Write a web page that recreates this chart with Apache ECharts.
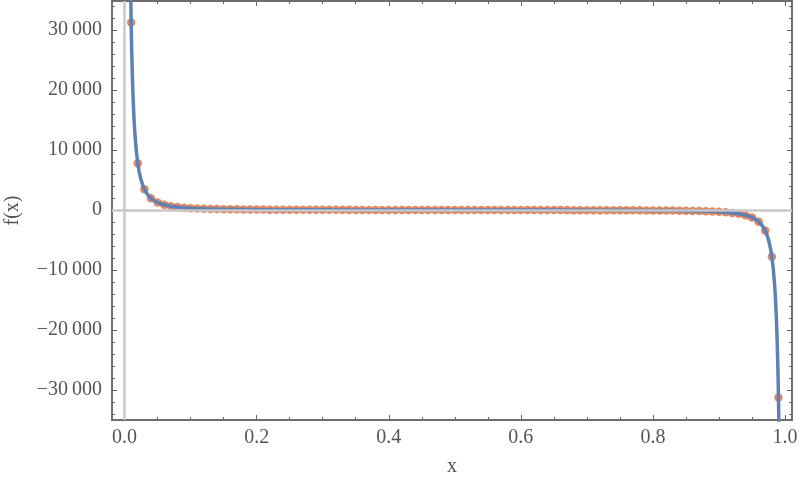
<!DOCTYPE html>
<html>
<head>
<meta charset="utf-8">
<script src="https://cdn.jsdelivr.net/npm/echarts@6/dist/echarts.min.js"></script>
<style>html,body{margin:0;padding:0;background:#fff}#c{width:800px;height:484px}</style>
</head>
<body>
<div id="c"></div>
<script>
// sample points (orange dots)
var pointX = [0.01,0.02,0.03,0.04,0.05,0.06,0.07,0.08,0.09,0.10,0.11,0.12,0.13,0.14,0.15,0.16,0.17,0.18,0.19,0.20,0.21,0.22,0.23,0.24,0.25,0.26,0.27,0.28,0.29,0.30,0.31,0.32,0.33,0.34,0.35,0.36,0.37,0.38,0.39,0.40,0.41,0.42,0.43,0.44,0.45,0.46,0.47,0.48,0.49,0.50,0.51,0.52,0.53,0.54,0.55,0.56,0.57,0.58,0.59,0.60,0.61,0.62,0.63,0.64,0.65,0.66,0.67,0.68,0.69,0.70,0.71,0.72,0.73,0.74,0.75,0.76,0.77,0.78,0.79,0.80,0.81,0.82,0.83,0.84,0.85,0.86,0.87,0.88,0.89,0.90,0.91,0.92,0.93,0.94,0.95,0.96,0.97,0.98,0.99];
var pointY = [31247,7809,3469,1950,1247,865,634,485,382,309,254,213,181,155,135,118,104,92,82,73,66,59,54,49,44,40,37,34,31,28,26,24,22,20,18,16,15,13,12,11,10,8,7,6,5,4,3,2,1,0,-1,-2,-3,-4,-5,-6,-7,-8,-10,-11,-12,-13,-15,-16,-18,-20,-22,-24,-26,-28,-31,-34,-37,-40,-44,-49,-54,-59,-66,-73,-82,-92,-104,-118,-135,-155,-181,-213,-254,-309,-382,-485,-634,-865,-1247,-1950,-3469,-7809,-31247];
// curve (blue line)
var curveX = [0.0085,0.009,0.0095,0.01,0.0105,0.011,0.012,0.013,0.014,0.015,0.016,0.018,0.02,0.022,0.025,0.028,0.03,0.033,0.036,0.04,0.045,0.05,0.055,0.06,0.07,0.08,0.09,0.10,0.12,0.14,0.17,0.20,0.25,0.30,0.35,0.40,0.45,0.50,0.55,0.60,0.65,0.70,0.75,0.80,0.83,0.86,0.88,0.90,0.91,0.92,0.93,0.94,0.945,0.95,0.955,0.96,0.964,0.967,0.97,0.972,0.975,0.978,0.98,0.982,0.984,0.985,0.986,0.987,0.988,0.989,0.9895,0.99,0.9905,0.991,0.9915];
var curveY = [43253,38580,34626,31247,28342,25823,21698,18488,15941,13886,12204,9642,7809,6454,4997,3983,3469,2867,2408,1950,1540,1247,1030,865,634,485,382,309,213,155,104,73,44,28,18,11,5,0,-5,-11,-18,-28,-44,-73,-104,-155,-213,-309,-382,-485,-634,-865,-1030,-1247,-1540,-1950,-2408,-2867,-3469,-3983,-4997,-6454,-7809,-9642,-12204,-13886,-15941,-18488,-21698,-25823,-28342,-31247,-34626,-38580,-43253];
// ticks
var xMajor = [0,0.2,0.4,0.6,0.8,1.0];
var xMinor = [0.05,0.1,0.15,0.25,0.3,0.35,0.45,0.5,0.55,0.65,0.7,0.75,0.85,0.9,0.95];
var yMajor = [-30000,-20000,-10000,0,10000,20000,30000];
var yMinor = [-34000,-32000,-28000,-26000,-24000,-22000,-18000,-16000,-14000,-12000,-8000,-6000,-4000,-2000,2000,4000,6000,8000,12000,14000,16000,18000,22000,24000,26000,28000,32000,34000];

var X_MIN = -0.019, X_MAX = 1.0105, Y_MIN = -35000, Y_MAX = 34830;
var FRAME = '#666666', TXT = '#555555', FONT = 'Liberation Serif';

function fmtY(v){
  if (v === 0) return '0';
  var a = Math.abs(v), s = String(a);
  if (a >= 10000) s = s.slice(0, s.length-3) + '\u2009' + s.slice(-3);
  return (v < 0 ? '\u2212' : '') + s;
}
function fmtX(v){ return v.toFixed(1); }

function mkX(pos, ticks, len, labels, name){
  return {
    type:'value', position:pos, min:X_MIN, max:X_MAX,
    name: name || '', nameLocation:'middle', nameGap:37,
    nameTextStyle:{fontFamily:FONT, fontSize:20, color:TXT},
    axisLine:{show:true, onZero:false, lineStyle:{color:FRAME, width:1.5}},
    axisTick:{show:true, inside:true, length:len, customValues:ticks, lineStyle:{color:FRAME, width:1}},
    axisLabel:{show:labels, customValues:xMajor, formatter:fmtX, fontFamily:FONT, fontSize:20, color:TXT, margin:8},
    splitLine:{show:false}
  };
}
function mkY(pos, ticks, len, labels, name){
  return {
    type:'value', position:pos, min:Y_MIN, max:Y_MAX,
    name: name || '', nameLocation:'middle', nameGap:89,
    nameTextStyle:{fontFamily:FONT, fontSize:20, color:TXT},
    axisLine:{show:true, onZero:false, lineStyle:{color:FRAME, width:1.5}},
    axisTick:{show:true, inside:true, length:len, customValues:ticks, lineStyle:{color:FRAME, width:1}},
    axisLabel:{show:labels, customValues:yMajor, formatter:fmtY, fontFamily:FONT, fontSize:20, color:TXT, margin:10},
    splitLine:{show:false}
  };
}

var chart = echarts.init(document.getElementById('c'), null, {renderer:'canvas'});
chart.setOption({
  animation:false,
  backgroundColor:'#ffffff',
  grid:{left:112, right:8, top:1, bottom:64, containLabel:false, outerBoundsMode:'none'},
  xAxis:[
    mkX('bottom', xMajor, 5, true, 'x'),
    mkX('bottom', xMinor, 3, false),
    mkX('top', xMajor, 5, false),
    mkX('top', xMinor, 3, false)
  ],
  yAxis:[
    mkY('left', yMajor, 5, true, 'f(x)'),
    mkY('left', yMinor, 3, false),
    mkY('right', yMajor, 5, false),
    mkY('right', yMinor, 3, false)
  ],
  series:[
    {
      type:'line', xAxisIndex:0, yAxisIndex:0, silent:true,
      data:[], symbol:'none',
      markLine:{
        silent:true, symbol:'none', label:{show:false},
        lineStyle:{color:'#c8c8c8', width:2.5, type:'solid'},
        data:[{xAxis:0},{yAxis:0}]
      },
      z:1
    },
    {
      type:'scatter', xAxisIndex:0, yAxisIndex:0, silent:true,
      data: pointX.map(function(x,i){return [x, pointY[i]];}),
      symbol:'circle', symbolSize:8.5, clip:true,
      itemStyle:{color:'#DB6B3C'},
      z:3
    },
    {
      type:'line', xAxisIndex:0, yAxisIndex:0, silent:true,
      data: curveX.map(function(x,i){return [x, curveY[i]];}),
      symbol:'none', smooth:false, clip:true,
      lineStyle:{color:'#5E81B5', width:3.5},
      z:4
    }
  ]
});
</script>
</body>
</html>
